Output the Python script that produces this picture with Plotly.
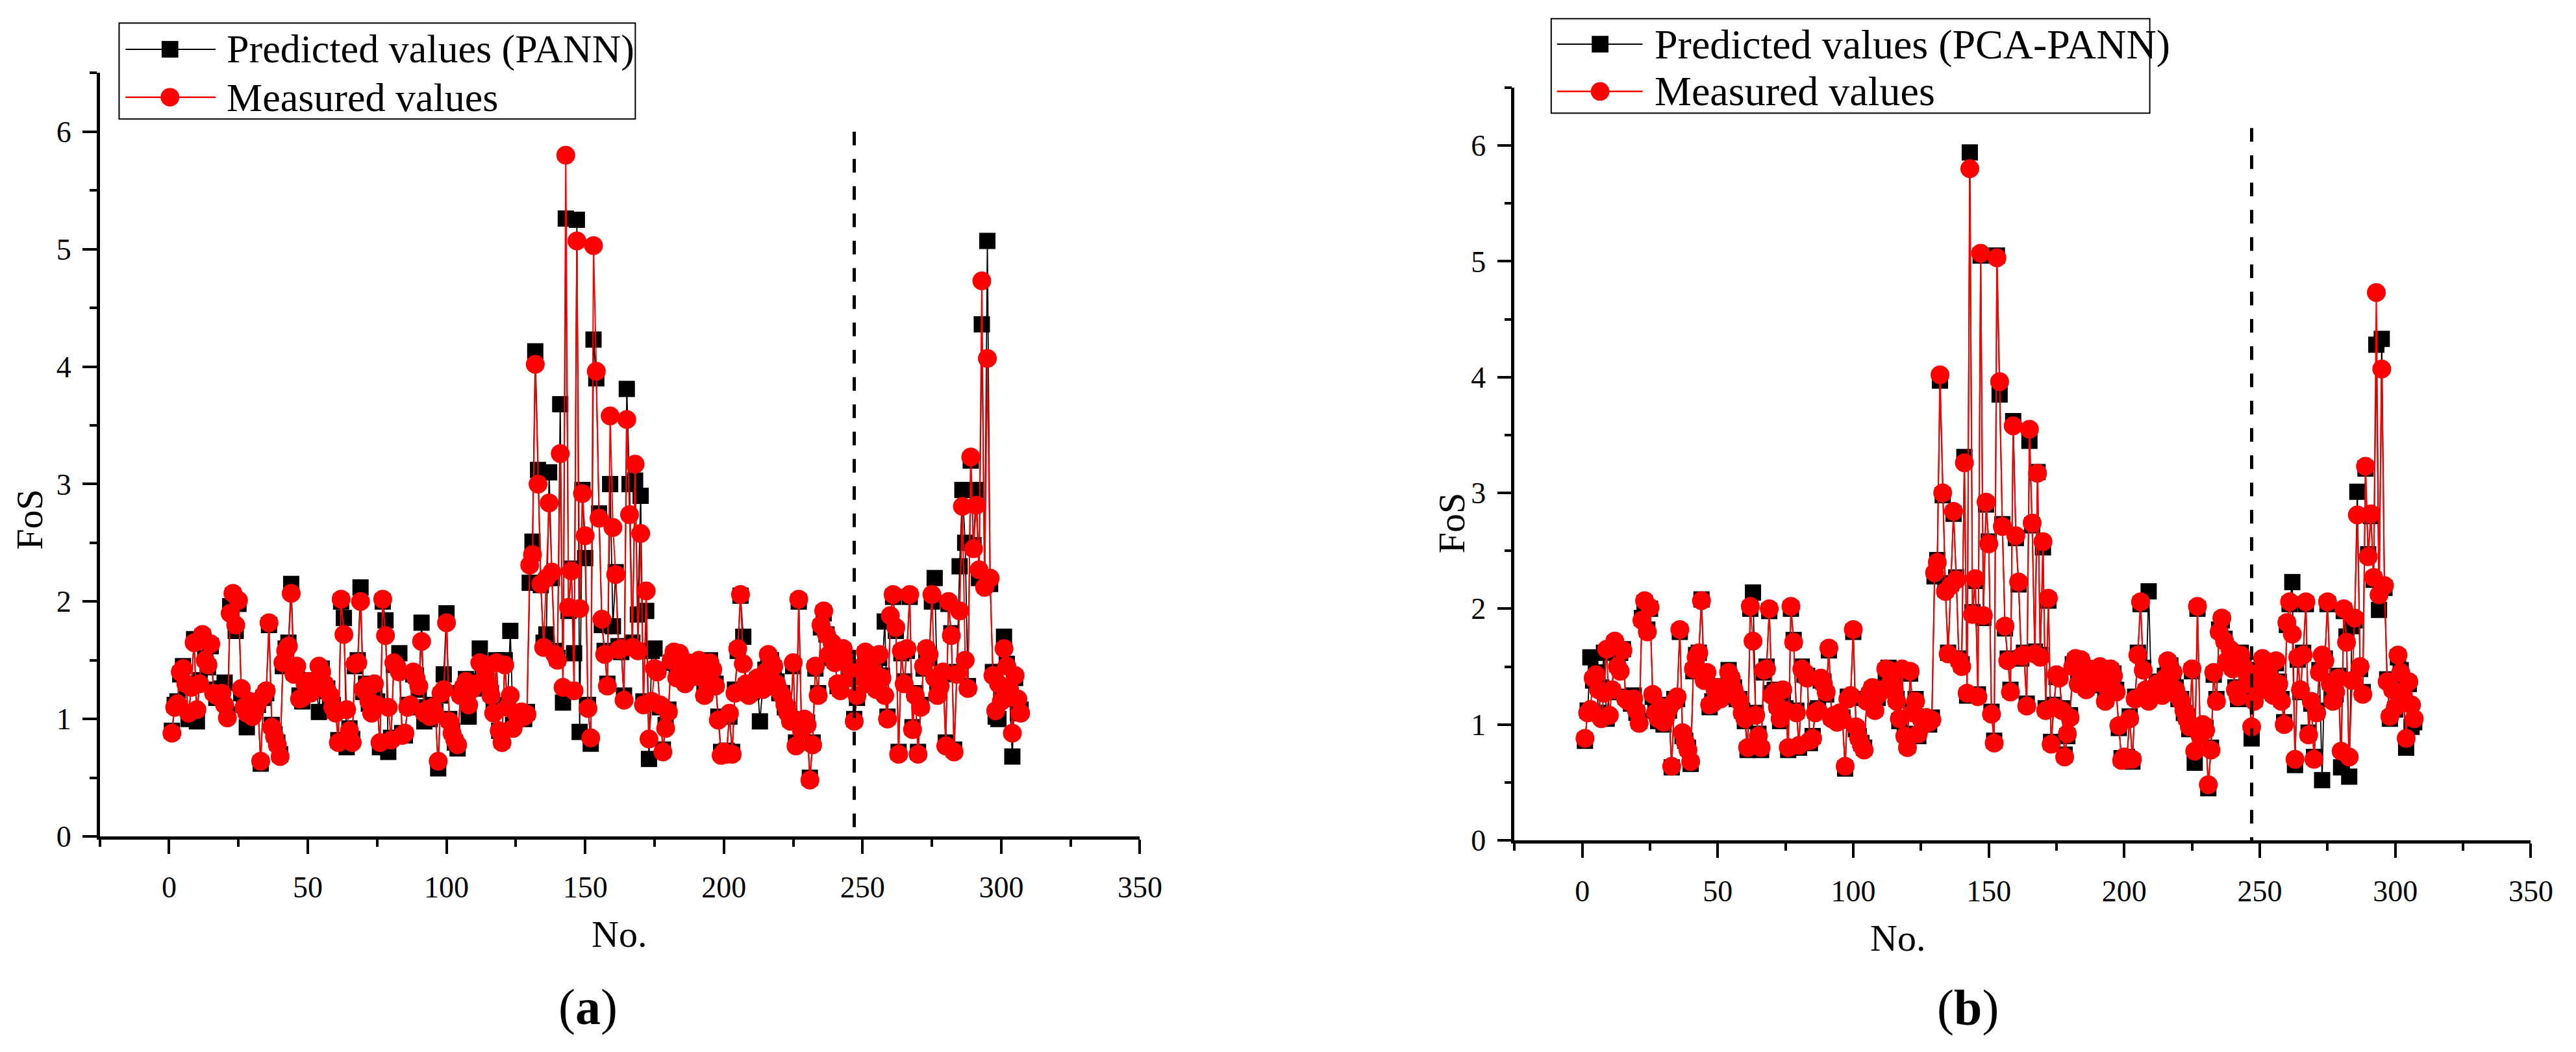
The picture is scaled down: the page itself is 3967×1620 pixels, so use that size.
import plotly.graph_objects as go

W, H = 3967, 1620
FONT = "Liberation Serif, Times New Roman, serif"

# sample number (No.) and FoS values
sample_no = list(range(1, 308))

measured = [
    0.88, 1.10, 1.13, 1.40, 1.43, 1.30, 1.05, 1.27, 1.65, 1.08,
    1.30, 1.72, 1.50, 1.46, 1.64, 1.22, 1.20, 1.21, 1.22, 1.12,
    1.01, 1.90, 2.07, 1.80, 2.01, 1.26, 1.10, 1.05, 1.15, 1.02,
    1.08, 1.14, 0.64, 1.20, 1.24, 1.82, 0.93, 0.85, 0.78, 0.68,
    1.48, 1.58, 1.62, 2.07, 1.38, 1.45, 1.17, 1.18, 1.30, 1.32,
    1.22, 1.26, 1.28, 1.45, 1.40, 1.30, 1.24, 1.20, 1.10, 1.05,
    0.80, 2.02, 1.72, 1.08, 0.90, 0.80, 1.47, 1.48, 2.00, 1.25,
    1.28, 1.15, 1.05, 1.30, 1.12, 0.80, 2.02, 1.71, 1.10, 0.82,
    1.48, 1.45, 1.40, 0.86, 0.88, 1.10, 1.12, 1.40, 1.35, 1.28,
    1.66, 1.05, 1.08, 1.02, 1.10, 1.04, 0.64, 1.22, 1.25, 1.82,
    0.98, 0.88, 0.82, 0.78, 1.20, 1.27, 1.32, 1.12, 1.25, 1.28,
    1.30, 1.48, 1.47, 1.38, 1.30, 1.20, 1.05, 1.48, 0.90, 0.80,
    1.46, 1.10, 1.20, 0.92, 1.05, 1.00, 1.06, 1.02, 1.04, 2.31,
    2.40, 4.02, 3.00, 2.15, 1.61, 2.20, 2.84, 2.25, 1.55, 1.50,
    3.26, 1.27, 5.80, 1.95, 2.26, 1.24, 5.07, 1.94, 2.92, 2.56,
    1.09, 0.84, 5.03, 3.96, 2.71, 1.85, 1.55, 1.28, 3.58, 2.63,
    2.23, 1.59, 1.60, 1.16, 3.55, 2.74, 1.61, 3.17, 1.58, 2.58,
    1.12, 2.09, 0.83, 1.15, 1.43, 1.40, 1.12, 0.72, 0.92, 1.06,
    1.50, 1.57, 1.35, 1.56, 1.40, 1.30, 1.48, 1.45, 1.36, 1.40,
    1.50, 1.38, 1.20, 1.30, 1.48, 1.42, 1.28, 0.99, 0.69, 0.72,
    0.70, 1.05, 0.70, 1.22, 1.60, 2.06, 1.47, 1.30, 1.20, 1.25,
    1.28, 1.35, 1.30, 1.25, 1.40, 1.55, 1.49, 1.45, 1.30, 1.24,
    1.20, 1.12, 1.05, 0.98, 1.48, 0.77, 2.02, 0.90, 1.00, 0.95,
    0.48, 0.78, 1.45, 1.20, 1.80, 1.92, 1.72, 1.55, 1.65, 1.48,
    1.30, 1.24, 1.60, 1.50, 1.45, 1.35, 0.98, 1.20, 1.40, 1.45,
    1.57, 1.30, 1.52, 1.40, 1.25, 1.55, 1.35, 1.20, 1.00, 1.88,
    2.06, 1.78, 0.70, 1.58, 1.30, 1.60, 2.06, 0.91, 1.20, 0.70,
    1.10, 1.45, 1.60, 1.55, 2.06, 1.35, 1.20, 1.28, 1.40, 0.77,
    2.00, 1.71, 0.72, 1.38, 1.92, 2.81, 1.50, 1.26, 3.23, 2.45,
    2.82, 2.27, 4.73, 2.12, 4.07, 2.20, 1.37, 1.07, 1.30, 1.15,
    1.60, 1.45, 1.25, 0.88, 1.37, 1.17, 1.05,
]

pred_pann = [
    0.90, 1.12, 1.15, 1.38, 1.45, 1.28, 1.00, 1.30, 1.68, 0.98,
    1.33, 1.70, 1.52, 1.44, 1.62, 1.25, 1.18, 1.24, 1.26, 1.31,
    1.04, 1.96, 2.05, 1.75, 1.98, 1.22, 1.12, 0.93, 1.13, 1.05,
    1.10, 1.12, 0.62, 1.18, 1.22, 1.80, 0.95, 0.87, 0.80, 0.70,
    1.45, 1.60, 1.65, 2.15, 1.40, 1.42, 1.20, 1.15, 1.33, 1.30,
    1.25, 1.24, 1.30, 1.06, 1.43, 1.28, 1.26, 1.18, 1.12, 1.07,
    0.82, 2.00, 1.86, 0.76, 0.92, 0.83, 1.45, 1.50, 2.12, 1.23,
    1.30, 1.13, 1.08, 1.27, 1.15, 0.76, 2.00, 1.84, 0.72, 0.84,
    1.46, 1.47, 1.56, 0.88, 0.86, 1.12, 1.10, 1.38, 1.37, 1.25,
    1.82, 0.98, 1.10, 1.00, 1.12, 1.06, 0.58, 1.20, 1.38, 1.90,
    1.00, 0.90, 0.80, 0.75, 1.22, 1.25, 1.34, 1.02, 1.28, 1.26,
    1.32, 1.60, 1.45, 1.40, 1.28, 1.22, 1.08, 1.50, 0.90, 0.82,
    1.50, 1.12, 1.75, 0.95, 1.03, 1.02, 1.04, 1.00, 1.06, 2.16,
    2.51, 4.13, 3.12, 2.14, 1.65, 1.72, 3.10, 2.20, 1.58, 1.52,
    3.68, 1.14, 5.26, 1.92, 2.28, 1.56, 5.25, 0.89, 2.95, 2.37,
    1.12, 0.79, 4.23, 3.90, 2.75, 1.80, 1.58, 1.30, 3.00, 1.79,
    2.25, 1.62, 1.57, 1.20, 3.81, 3.00, 1.65, 3.03, 1.89, 2.90,
    1.15, 1.92, 0.66, 1.58, 1.60, 1.42, 1.10, 0.74, 0.95, 1.08,
    1.48, 1.55, 1.38, 1.52, 1.42, 1.33, 1.45, 1.47, 1.38, 1.42,
    1.48, 1.40, 1.22, 1.28, 1.50, 1.40, 1.30, 1.02, 0.72, 0.70,
    0.73, 1.02, 0.72, 1.25, 1.58, 2.05, 1.70, 1.28, 1.22, 1.23,
    1.30, 1.33, 0.98, 1.27, 1.42, 1.52, 1.50, 1.43, 1.32, 1.22,
    1.22, 1.10, 1.08, 1.00, 1.45, 0.80, 2.00, 0.92, 0.98, 0.97,
    0.50, 0.80, 1.43, 1.22, 1.78, 1.90, 1.72, 1.52, 1.62, 1.50,
    1.28, 1.26, 1.58, 1.52, 1.42, 1.38, 1.00, 1.18, 1.42, 1.43,
    1.55, 1.32, 1.50, 1.42, 1.27, 1.52, 1.37, 1.83, 1.02, 1.85,
    2.04, 1.75, 0.72, 1.56, 1.32, 1.58, 2.04, 0.93, 1.22, 0.72,
    1.12, 1.43, 1.58, 1.52, 2.00, 2.20, 1.22, 1.30, 1.38, 0.80,
    1.98, 1.73, 0.74, 1.40, 2.30, 2.95, 2.50, 1.28, 3.20, 2.48,
    2.95, 2.20, 4.36, 2.18, 5.07, 2.15, 1.40, 1.02, 1.00, 1.17,
    1.70, 1.47, 1.22, 0.68, 1.35, 1.05, 1.08,
]

pred_pca_pann = [
    0.86, 1.12, 1.58, 1.38, 1.45, 1.10, 1.32, 1.62, 1.05, 1.30,
    1.28, 1.70, 1.52, 1.62, 1.65, 1.24, 1.22, 1.18, 1.25, 1.10,
    1.03, 1.92, 2.05, 1.82, 2.00, 1.24, 1.12, 1.03, 1.17, 1.00,
    1.10, 1.12, 0.63, 1.22, 1.22, 1.80, 0.90, 0.86, 0.80, 0.66,
    1.46, 1.60, 1.62, 2.08, 1.40, 1.43, 1.15, 1.20, 1.28, 1.33,
    1.24, 1.24, 1.27, 1.47, 1.38, 1.32, 1.22, 1.22, 1.12, 1.03,
    0.78, 2.00, 2.14, 1.10, 0.92, 0.78, 1.45, 1.50, 1.98, 1.27,
    1.30, 1.17, 1.03, 1.28, 1.14, 0.78, 2.00, 1.73, 1.12, 0.80,
    1.50, 1.43, 1.42, 0.84, 0.90, 1.12, 1.14, 1.38, 1.37, 1.26,
    1.64, 1.07, 1.06, 1.04, 1.08, 1.06, 0.62, 1.24, 1.23, 1.80,
    0.96, 0.90, 0.84, 0.80, 1.22, 1.25, 1.30, 1.14, 1.23, 1.30,
    1.32, 1.46, 1.49, 1.36, 1.32, 1.22, 1.03, 1.46, 0.92, 0.82,
    1.44, 1.12, 1.22, 0.90, 1.07, 1.02, 1.04, 1.00, 1.06, 2.28,
    2.42, 3.97, 2.98, 2.17, 1.62, 2.22, 2.82, 2.27, 1.57, 1.52,
    3.31, 1.25, 5.94, 1.97, 2.24, 1.26, 5.05, 1.92, 2.90, 2.58,
    1.11, 0.86, 5.05, 3.85, 2.73, 1.83, 1.57, 1.30, 3.62, 2.61,
    2.21, 1.57, 1.62, 1.18, 3.45, 2.72, 1.63, 3.18, 1.60, 2.53,
    1.14, 2.07, 0.85, 1.17, 1.41, 1.42, 1.14, 0.74, 0.90, 1.08,
    1.52, 1.55, 1.37, 1.54, 1.42, 1.32, 1.46, 1.47, 1.34, 1.42,
    1.48, 1.40, 1.22, 1.32, 1.46, 1.44, 1.30, 0.97, 0.71, 0.70,
    0.72, 1.07, 0.68, 1.24, 1.62, 2.04, 1.49, 1.28, 2.15, 1.27,
    1.30, 1.37, 1.28, 1.27, 1.42, 1.53, 1.51, 1.43, 1.32, 1.22,
    1.22, 1.10, 1.07, 0.96, 1.46, 0.67, 2.00, 0.92, 0.98, 0.97,
    0.45, 0.80, 1.43, 1.22, 1.82, 1.90, 1.74, 1.53, 1.63, 1.50,
    1.32, 1.22, 1.62, 1.52, 1.47, 1.37, 0.88, 1.22, 1.42, 1.47,
    1.55, 1.32, 1.50, 1.42, 1.27, 1.53, 1.37, 1.22, 1.02, 1.86,
    2.04, 2.23, 0.65, 1.56, 1.28, 1.62, 2.04, 0.93, 1.18, 0.72,
    1.12, 1.47, 0.52, 1.57, 2.04, 1.37, 1.22, 1.26, 1.42, 0.63,
    1.98, 1.76, 0.55, 1.85, 1.90, 3.01, 1.48, 1.28, 3.21, 2.47,
    2.80, 2.25, 4.28, 1.99, 4.33, 2.18, 1.39, 1.05, 1.32, 1.13,
    1.58, 1.47, 1.27, 0.80, 1.35, 0.98, 1.02,
]

assert len(measured) == len(pred_pann) == len(pred_pca_pann) == len(sample_no)

split_no = 247          # dashed boundary line
split_top = [6.0, 6.15]  # how high the dashed line reaches in (a) and (b)
x_ticks = [0, 50, 100, 150, 200, 250, 300, 350]
y_ticks = [0, 1, 2, 3, 4, 5, 6]
legend_labels = [["Predicted values (PANN)", "Measured values"],
                 ["Predicted values (PCA-PANN)", "Measured values"]]
panel_labels = ["(<b>a</b>)", "(<b>b</b>)"]


def px(x):
    return x / W


def py(y):
    return 1 - y / H


fig = go.Figure()

for i, pred in enumerate([pred_pann, pred_pca_pann]):
    xa = "x" if i == 0 else "x2"
    ya = "y" if i == 0 else "y2"
    fig.add_trace(go.Scatter(
        x=sample_no, y=pred, mode="lines+markers", xaxis=xa, yaxis=ya,
        line=dict(color="black", width=1.8),
        marker=dict(symbol="square", size=25, color="black", line=dict(width=0)),
        showlegend=False,
    ))
    fig.add_trace(go.Scatter(
        x=sample_no, y=measured, mode="lines+markers", xaxis=xa, yaxis=ya,
        line=dict(color="red", width=2),
        marker=dict(symbol="circle", size=29, color="red", line=dict(width=0)),
        showlegend=False,
    ))

axis_style = dict(
    showline=True, linecolor="black", linewidth=4.5, mirror=False,
    ticks="outside", ticklen=22, tickwidth=4, tickcolor="black",
    showgrid=False, zeroline=False,
    tickfont=dict(family=FONT, size=46, color="black"),
)
x_style = dict(axis_style, range=[-25, 350], tickmode="array", tickvals=x_ticks,
               ticklabelstandoff=12,
               minor=dict(ticks="outside", ticklen=11, tickwidth=4, tickcolor="black",
                          tick0=0, dtick=25, showgrid=False))
y_style = dict(axis_style, range=[0, 6.5], tickmode="array", tickvals=y_ticks,
               ticklabelstandoff=8,
               minor=dict(ticks="outside", ticklen=11, tickwidth=4, tickcolor="black",
                          tick0=0, dtick=0.5, showgrid=False))

fig.update_layout(
    width=W, height=H, autosize=False,
    margin=dict(l=0, r=0, t=0, b=0),
    paper_bgcolor="white", plot_bgcolor="white",
    showlegend=False,
    xaxis=dict(x_style, domain=[px(147), px(1763)], anchor="y"),
    yaxis=dict(y_style, domain=[py(1301), py(106)], anchor="x"),
    xaxis2=dict(x_style, domain=[px(2345), px(3924)], anchor="y2"),
    yaxis2=dict(y_style, domain=[py(1307), py(129)], anchor="x2"),
)

shapes = []
annotations = []

# dashed boundary lines
for i, (xr, yr) in enumerate([("x", "y"), ("x2", "y2")]):
    shapes.append(dict(type="line", xref=xr, yref=yr, x0=split_no, x1=split_no,
                       y0=split_top[i], y1=0, layer="above",
                       line=dict(color="black", width=5, dash="21px,21px")))

# hand-built legends (Origin style, long line samples and big symbols)
legend_geo = [
    dict(box=(177, 28, 979, 178), line=(187, 327), mark=256, text=342,
         rows=(69, 144), size=62),
    dict(box=(2402, 21, 3332, 169), line=(2411, 2544), mark=2478, text=2561,
         rows=(61, 135), size=64),
]
for g, labels in zip(legend_geo, legend_labels):
    x0, y0, x1, y1 = g["box"]
    shapes.append(dict(type="rect", xref="paper", yref="paper",
                       x0=px(x0), x1=px(x1), y0=py(y1), y1=py(y0),
                       line=dict(color="black", width=2), fillcolor="white", layer="above"))
    r1, r2 = g["rows"]
    shapes.append(dict(type="line", xref="paper", yref="paper",
                       x0=px(g["line"][0]), x1=px(g["line"][1]), y0=py(r1), y1=py(r1),
                       line=dict(color="black", width=2), layer="above"))
    shapes.append(dict(type="rect", xref="paper", yref="paper",
                       x0=px(g["mark"] - 13), x1=px(g["mark"] + 13),
                       y0=py(r1 + 13), y1=py(r1 - 13),
                       line=dict(width=0), fillcolor="black", layer="above"))
    shapes.append(dict(type="line", xref="paper", yref="paper",
                       x0=px(g["line"][0]), x1=px(g["line"][1]), y0=py(r2), y1=py(r2),
                       line=dict(color="red", width=2.5), layer="above"))
    shapes.append(dict(type="circle", xref="paper", yref="paper",
                       x0=px(g["mark"] - 14.5), x1=px(g["mark"] + 14.5),
                       y0=py(r2 + 14.5), y1=py(r2 - 14.5),
                       line=dict(width=0), fillcolor="red", layer="above"))
    for r, lab in zip((r1, r2), labels):
        annotations.append(dict(xref="paper", yref="paper", x=px(g["text"]), y=py(r),
                                xanchor="left", yanchor="middle", showarrow=False,
                                text=lab, font=dict(family=FONT, size=g["size"], color="black")))

# axis titles and panel labels
title_font = dict(family=FONT, size=58, color="black")
for (nx, ny), (fx, fy), (lx, ly), lab in [
    ((954, 1454), (37, 805), (905, 1568), panel_labels[0]),
    ((2940, 1460), (2247, 810), (3049, 1569), panel_labels[1]),
]:
    annotations.append(dict(xref="paper", yref="paper", x=px(nx), y=py(ny),
                            xanchor="center", yanchor="middle", showarrow=False,
                            text="No.", font=title_font))
    annotations.append(dict(xref="paper", yref="paper", x=px(fx), y=py(fy),
                            xanchor="center", yanchor="middle", showarrow=False,
                            text="FoS", textangle=-90, font=title_font))
    annotations.append(dict(xref="paper", yref="paper", x=px(lx), y=py(ly),
                            xanchor="center", yanchor="middle", showarrow=False,
                            text=lab, font=dict(family=FONT, size=78, color="black")))

fig.update_layout(shapes=shapes, annotations=annotations)

fig.write_html("out.html")
